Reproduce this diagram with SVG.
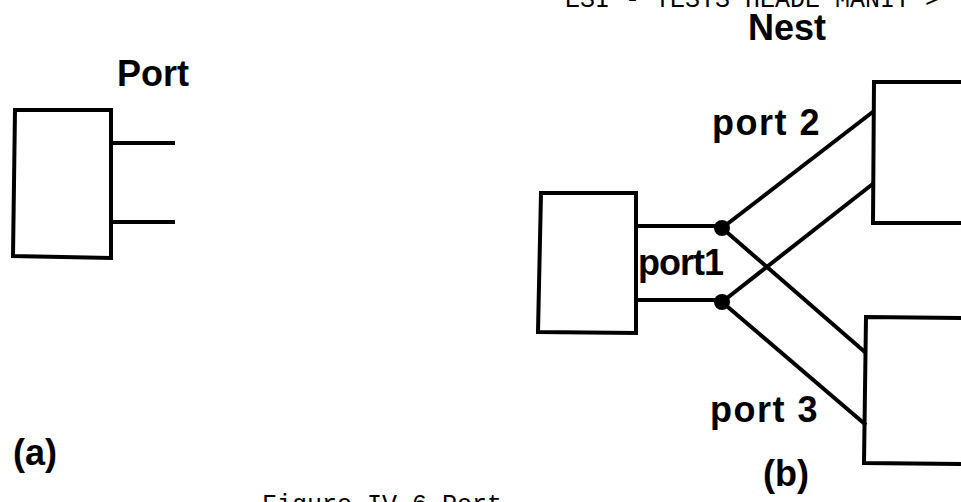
<svg xmlns="http://www.w3.org/2000/svg" width="961" height="502" viewBox="0 0 961 502">
<style>
.box{fill:#fff;stroke:#000;stroke-width:4;stroke-linejoin:miter}
.ln{stroke:#000;stroke-width:4;fill:none;stroke-linecap:butt}
.lbl{font-family:"Liberation Sans",Arial,sans-serif;font-weight:bold;font-size:36px;fill:#000}
.mono{font-family:"Liberation Mono","DejaVu Sans Mono",monospace;font-size:25px;fill:#000}
</style>
<rect width="961" height="502" fill="#fff"/>
<text class="mono" x="565" y="7">ESI - TESTS HEADE MANIT &gt;</text>
<text class="mono" x="262" y="512">Figure IV.6 Port</text>

<g id="part-a">
  <text class="lbl" x="117" y="86" font-size="37">Port</text>
  <g id="node-a">
    <path class="box" d="M15,110 L111,110 L111,258 L13,256 Z"/>
  </g>
  <g id="ports-a">
    <line class="ln" x1="111" y1="143" x2="175" y2="143"/>
    <line class="ln" x1="111" y1="222" x2="175" y2="222"/>
  </g>
  <text class="lbl" x="13" y="465">(a)</text>
</g>

<g id="part-b">
  <text class="lbl" x="748" y="40" font-size="38">Nest</text>
  <g id="node-left">
    <path class="box" d="M541,193 L636,193 L636,333 L538,332 Z"/>
  </g>
  <g id="node-top-right">
    <path class="box" d="M874,82 L965,82 L965,223 L873,223 Z"/>
  </g>
  <g id="node-bottom-right">
    <path class="box" d="M866,317 L965,318 L965,464 L864,463 Z"/>
  </g>
  <g id="connectors">
    <line class="ln" x1="636" y1="226" x2="722" y2="226"/>
    <line class="ln" x1="636" y1="300" x2="722" y2="300"/>
    <line class="ln" x1="722" y1="228" x2="874" y2="111"/>
    <line class="ln" x1="722" y1="302" x2="874" y2="183"/>
    <line class="ln" x1="722" y1="228" x2="866" y2="353"/>
    <line class="ln" x1="722" y1="302" x2="866" y2="425"/>
    <circle cx="722" cy="228" r="8" fill="#000"/>
    <circle cx="722" cy="302" r="8" fill="#000"/>
  </g>
  <text class="lbl" x="638" y="275" font-size="38" letter-spacing="-1">port1</text>
  <text class="lbl" x="712" y="135" letter-spacing="1.5">port 2</text>
  <text class="lbl" x="710" y="422" letter-spacing="1.5">port 3</text>
  <text class="lbl" x="763" y="486">(b)</text>
</g>
</svg>
